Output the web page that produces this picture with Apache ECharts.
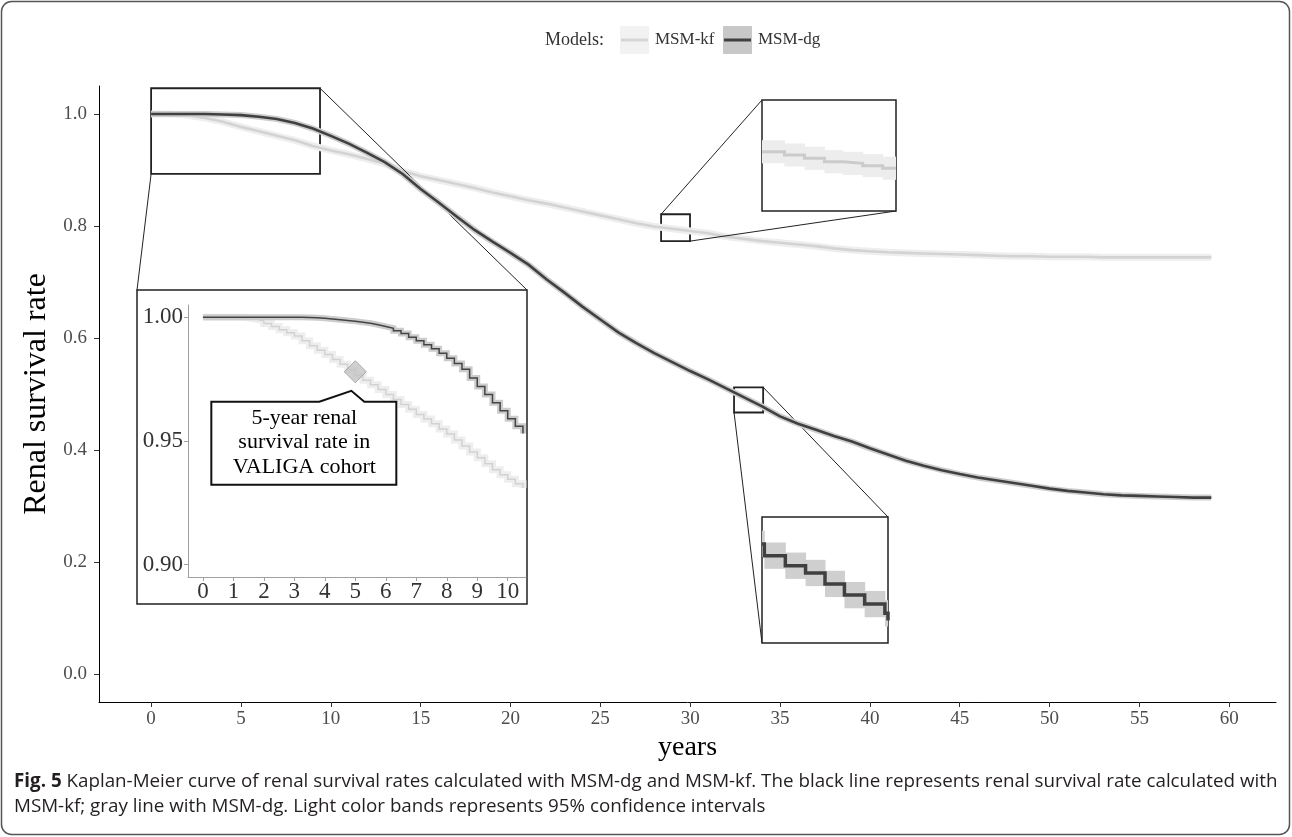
<!DOCTYPE html>
<html><head><meta charset="utf-8">
<script src="https://cdn.jsdelivr.net/npm/echarts@6/dist/echarts.min.js"></script>
<style>html,body{margin:0;padding:0;background:#fff}#c{width:1292px;height:837px}</style>
</head><body><div id="c"></div>
<script>
// ---------- data ----------
const years = [0,1,2,3,4,5,6,7,8,9,10,11,12,13,14,15,16,17,18,19,20,21,22,23,24,25,26,27,28,29,30,31,32,33,34,35,36,37,38,39,40,41,42,43,44,45,46,47,48,49,50,51,52,53,54,55,56,57,58,59];
const kfRate = [1.000,1.000,0.998,0.993,0.986,0.977,0.969,0.961,0.953,0.943,
  0.935,0.928,0.920,0.911,0.898,0.889,0.882,0.875,0.868,0.860,
  0.853,0.846,0.840,0.833,0.826,0.819,0.812,0.805,0.799,0.795,
  0.791,0.787,0.781,0.777,0.773,0.770,0.767,0.764,0.760,0.757,
  0.755,0.753,0.752,0.751,0.750,0.749,0.748,0.747,0.746,0.746,
  0.745,0.745,0.745,0.744,0.744,0.744,0.744,0.744,0.744,0.744];
const dgRate = [1.000,1.000,1.000,1.000,0.999,0.998,0.995,0.991,0.984,0.974,
  0.961,0.947,0.931,0.914,0.893,0.866,0.842,0.817,0.793,0.772,
  0.752,0.731,0.705,0.681,0.656,0.633,0.610,0.591,0.573,0.557,
  0.541,0.526,0.510,0.494,0.478,0.460,0.447,0.436,0.425,0.415,
  0.403,0.392,0.381,0.372,0.364,0.357,0.351,0.346,0.341,0.336,
  0.331,0.327,0.324,0.321,0.319,0.318,0.317,0.316,0.315,0.315];
const xTicks = [0,5,10,15,20,25,30,35,40,45,50,55,60];
const yTicks = [0,0.2,0.4,0.6,0.8,1.0];

const insetYears = [0,0.25,0.5,0.75,1,1.25,1.5,1.75,2,2.25,2.5,2.75,3,3.25,3.5,3.75,4,4.25,4.5,4.75,5,5.25,5.5,5.75,6,6.25,6.5,6.75,7,7.25,7.5,7.75,8,8.25,8.5,8.75,9,9.25,9.5,9.75,10,10.25,10.5];
const insetDg = [1.0000,1.0000,1.0000,1.0000,1.0000,1.0000,1.0000,1.0000,1.0000,1.0000,1.0000,1.0000,
  1.0000,0.9999,0.9998,0.9996,0.9993,0.9990,0.9987,0.9984,0.9980,0.9976,0.9970,0.9963,
  0.9956,0.9946,0.9935,0.9920,0.9905,0.9889,0.9873,0.9855,0.9835,0.9813,0.9790,0.9755,
  0.9720,0.9688,0.9655,0.9622,0.9590,0.9560,0.9530];
const insetKf = [1.0000,1.0000,1.0000,1.0000,1.0000,0.9998,0.9993,0.9985,0.9975,0.9963,0.9950,0.9938,
  0.9925,0.9905,0.9885,0.9867,0.9850,0.9830,0.9810,0.9788,0.9765,0.9746,0.9727,0.9708,
  0.9688,0.9668,0.9648,0.9628,0.9607,0.9589,0.9570,0.9549,0.9528,0.9504,0.9480,0.9456,
  0.9432,0.9408,0.9384,0.9364,0.9345,0.9327,0.9310];
const insetXTicks = [0,1,2,3,4,5,6,7,8,9,10];
const insetYTicks = [0.90,0.95,1.00];
const valigaYear = 5;
const valigaRate = 0.978;

// magnified regions (data coordinates)
const boxA = {x:[0, 9.4], y:[0.893, 1.046]};
const boxB = {x:[28.38, 29.99], y:[0.773, 0.821]};
const boxC = {x:[32.44, 34.06], y:[0.467, 0.512]};
const zoomKfYears = [28.38,28.65,28.89,29.13,29.35,29.59,29.83,29.99];
const zoomKfRate  = [0.7986,0.7972,0.7958,0.7943,0.7936,0.7926,0.7915,0.7915];
const zoomKfLow   = [0.7936,0.7922,0.7908,0.7893,0.7886,0.7876,0.7865,0.7865];
const zoomKfHigh  = [0.8036,0.8022,0.8008,0.7993,0.7986,0.7976,0.7965,0.7965];
const zoomDgYears = [32.44,32.47,32.74,33.00,33.25,33.50,33.76,34.02,34.06];
const zoomDgRate  = [0.5024,0.4982,0.4946,0.4920,0.4881,0.4841,0.4809,0.4776,0.4750];
const zoomDgLow   = [0.4977,0.4935,0.4899,0.4873,0.4834,0.4794,0.4762,0.4729,0.4703];
const zoomDgHigh  = [0.5071,0.5029,0.4993,0.4967,0.4928,0.4888,0.4856,0.4823,0.4797];

// ---------- helpers ----------
const pair = (xs, ys) => xs.map((x, i) => [x, ys[i]]);
const SERIF = '"Liberation Serif", "Times New Roman", serif';
const SANS = '"Open Sans", sans-serif';

const chart = echarts.init(document.getElementById('c'), null, {renderer: 'canvas'});

function lineSeries(name, data, xi, color, width, z, step) {
  return {
    name, type: 'line', xAxisIndex: xi, yAxisIndex: xi, data,
    showSymbol: false, symbol: 'none', step: step || false, z,
    lineStyle: {color, width, cap: 'butt', join: 'miter'},
    emphasis: {disabled: true}, silent: true
  };
}
// confidence band: one rectangle per step, [start, end, low, high]
function bandSeries(name, xs, lo, hi, xi, color, z) {
  const data = [];
  for (let i = 0; i < xs.length - 1; i++) data.push([xs[i], xs[i + 1], lo[i], hi[i]]);
  return {
    name, type: 'custom', xAxisIndex: xi, yAxisIndex: xi, z, silent: true,
    encode: {x: [0, 1], y: [2, 3]}, data,
    renderItem: (params, api) => {
      const p1 = api.coord([api.value(0), api.value(3)]);
      const p2 = api.coord([api.value(1), api.value(2)]);
      const cs = params.coordSys;
      const shape = echarts.graphic.clipRectByRect(
        {x: p1[0], y: p1[1], width: p2[0] - p1[0] + 0.5, height: p2[1] - p1[1]},
        {x: cs.x, y: cs.y, width: cs.width, height: cs.height});
      return shape && {type: 'rect', shape, style: {fill: color}};
    }
  };
}

const hiddenAxis = (gi, r) => ({gridIndex: gi, type: 'value', min: r[0], max: r[1], show: false});

const option = {
  animation: false,
  backgroundColor: '#fff',
  grid: [
    {left: 99, right: 16, top: 86, bottom: 135},
    {left: 188, top: 305, width: 338, height: 272, z: 10},
    {left: 762, top: 100, width: 134, height: 111, show: true, backgroundColor: '#fff', borderColor: '#222', borderWidth: 1.5, z: 4},
    {left: 762, top: 517, width: 126, height: 126, show: true, backgroundColor: '#fff', borderColor: '#222', borderWidth: 1.5, z: 4}
  ],
  xAxis: [
    {gridIndex: 0, type: 'value', min: -2.9, max: 62.6,
     name: 'years', nameLocation: 'middle', nameGap: 32,
     nameTextStyle: {fontFamily: SERIF, fontSize: 28, color: '#000'},
     axisLine: {show: true, onZero: false, lineStyle: {color: '#000', width: 1}},
     axisTick: {show: true, length: 5, customValues: xTicks, lineStyle: {color: '#333'}},
     axisLabel: {customValues: xTicks, fontFamily: SERIF, fontSize: 19, color: '#4d4d4d', margin: 8},
     splitLine: {show: false}},
    {gridIndex: 1, type: 'value', min: -0.49, max: 10.6, z: 10,
     axisLine: {show: true, onZero: false, lineStyle: {color: '#a0a0a0', width: 1}},
     axisTick: {show: true, length: 4, customValues: insetXTicks, lineStyle: {color: '#a0a0a0'}},
     axisLabel: {customValues: insetXTicks, fontFamily: SERIF, fontSize: 23, color: '#333', margin: 3},
     splitLine: {show: false}},
    hiddenAxis(2, boxB.x),
    hiddenAxis(3, boxC.x)
  ],
  yAxis: [
    {gridIndex: 0, type: 'value', min: -0.05, max: 1.05,
     name: 'Renal survival rate', nameLocation: 'middle', nameGap: 43, nameRotate: 90,
     nameTextStyle: {fontFamily: SERIF, fontSize: 32, color: '#000'},
     axisLine: {show: true, onZero: false, lineStyle: {color: '#000', width: 1}},
     axisTick: {show: true, length: 5, customValues: yTicks, lineStyle: {color: '#333'}},
     axisLabel: {customValues: yTicks, formatter: v => v.toFixed(1), fontFamily: SERIF, fontSize: 19, color: '#4d4d4d', margin: 12},
     splitLine: {show: false}},
    {gridIndex: 1, type: 'value', min: 0.895, max: 1.005, z: 10,
     axisLine: {show: true, onZero: false, lineStyle: {color: '#a0a0a0', width: 1}},
     axisTick: {show: true, length: 4, customValues: insetYTicks, lineStyle: {color: '#a0a0a0'}},
     axisLabel: {customValues: insetYTicks, formatter: v => v.toFixed(2), fontFamily: SERIF, fontSize: 23, color: '#333', margin: 5},
     splitLine: {show: false}},
    hiddenAxis(2, boxB.y),
    hiddenAxis(3, boxC.y)
  ],
  series: [
    // main panel
    lineSeries('MSM-kf band', pair(years, kfRate), 0, '#eeeeee', 7, 2),
    lineSeries('MSM-kf', pair(years, kfRate), 0, '#d3d3d3', 2.6, 2),
    lineSeries('MSM-dg band', pair(years, dgRate), 0, '#cdcdcd', 6, 3),
    Object.assign(lineSeries('MSM-dg', pair(years, dgRate), 0, '#404040', 2.6, 3), {
      markArea: {
        silent: true,
        itemStyle: {color: 'rgba(0,0,0,0)', borderColor: '#222', borderWidth: 1.8},
        data: [boxA, boxB, boxC].map(b => [{coord: [b.x[0], b.y[1]]}, {coord: [b.x[1], b.y[0]]}])
      }
    }),
    // inset panel
    lineSeries('inset kf band', pair(insetYears, insetKf), 1, '#eeeeee', 7, 11, 'end'),
    lineSeries('inset kf', pair(insetYears, insetKf), 1, '#d2d2d2', 1.5, 11, 'end'),
    lineSeries('inset dg band', pair(insetYears, insetDg), 1, '#cccccc', 6, 12, 'end'),
    lineSeries('inset dg', pair(insetYears, insetDg), 1, '#444', 1.5, 12, 'end'),
    {type: 'scatter', xAxisIndex: 1, yAxisIndex: 1, z: 13, silent: true,
     data: [[valigaYear, valigaRate]], symbol: 'diamond', symbolSize: [22, 22],
     itemStyle: {color: '#c4c4c4', borderColor: '#9a9a9a', borderWidth: 1}},
    // magnified box B
    bandSeries('zoom kf band', zoomKfYears, zoomKfLow, zoomKfHigh, 2, '#ededed', 5),
    lineSeries('zoom kf', pair(zoomKfYears, zoomKfRate), 2, '#cbcbcb', 3, 6, 'end'),
    // magnified box C
    bandSeries('zoom dg band', zoomDgYears, zoomDgLow, zoomDgHigh, 3, '#cfcfcf', 5),
    lineSeries('zoom dg', pair(zoomDgYears, zoomDgRate), 3, '#404040', 3.5, 6, 'end')
  ]
};
chart.setOption(option);

// ---------- annotations (anchored through the axes) ----------
const P = (g, x, y) => chart.convertToPixel({gridIndex: g}, [x, y]);
const INSET = {x: 137, y: 290, w: 390, h: 314};
const seg = (a, b, z) => ({type: 'line', z: z || 3, silent: true,
  shape: {x1: a[0], y1: a[1], x2: b[0], y2: b[1]}, style: {stroke: '#222', lineWidth: 1}});
const txt = (text, x, y, font, fill, align) => ({type: 'text', silent: true, z: 20,
  style: {text, x, y, font, fill: fill || '#000', align: align || 'left', verticalAlign: 'middle',
          textAlign: align || 'left', textVerticalAlign: 'middle'}});

const aBL = P(0, boxA.x[0], boxA.y[0]), aTR = P(0, boxA.x[1], boxA.y[1]);
const bTL = P(0, boxB.x[0], boxB.y[1]), bBR = P(0, boxB.x[1], boxB.y[0]);
const bTL2 = P(2, boxB.x[0], boxB.y[1]), bBR2 = P(2, boxB.x[1], boxB.y[0]);
const cTR = P(0, boxC.x[1], boxC.y[1]), cBL = P(0, boxC.x[0], boxC.y[0]);
const cTR2 = P(3, boxC.x[1], boxC.y[1]), cBL2 = P(3, boxC.x[0], boxC.y[0]);
const D = P(1, valigaYear, valigaRate);

const calloutPts = [
  [D[0] - 144, D[1] + 30], [D[0] - 36, D[1] + 30], [D[0] - 4, D[1] + 19], [D[0] + 9, D[1] + 30],
  [D[0] + 41, D[1] + 30], [D[0] + 41, D[1] + 113], [D[0] - 144, D[1] + 113]
];
const cx = D[0] - 51;

const graphics = [
  {type: 'rect', z: 0, silent: true, shape: {x: 1.5, y: 1.5, width: 1288, height: 833, r: 10},
   style: {fill: 'none', stroke: '#555', lineWidth: 1.5}},
  {type: 'rect', z: 1, silent: true, shape: {x: INSET.x, y: INSET.y, width: INSET.w, height: INSET.h},
   style: {fill: '#fff', stroke: '#222', lineWidth: 1.5}},
  seg(aBL, [INSET.x, INSET.y]), seg(aTR, [INSET.x + INSET.w, INSET.y]),
  seg(bTL, bTL2), seg(bBR, bBR2),
  seg(cTR, cTR2), seg(cBL, cBL2),
  {type: 'polygon', z: 14, silent: true, shape: {points: calloutPts},
   style: {fill: '#fff', stroke: '#111', lineWidth: 2}},
  txt('5-year renal', cx, D[1] + 46, '22px ' + SERIF, '#000', 'center'),
  txt('survival rate in', cx, D[1] + 70, '22px ' + SERIF, '#000', 'center'),
  txt('VALIGA cohort', cx, D[1] + 95, '22px ' + SERIF, '#000', 'center'),
  // legend
  txt('Models:', 545, 40, '18px ' + SERIF, '#333'),
  {type: 'rect', z: 20, silent: true, shape: {x: 620, y: 26, width: 29, height: 28}, style: {fill: '#f2f2f2'}},
  {type: 'line', z: 21, silent: true, shape: {x1: 621, y1: 40, x2: 648, y2: 40}, style: {stroke: '#d6d6d6', lineWidth: 3}},
  txt('MSM-kf', 655, 40, '17px ' + SERIF, '#333'),
  {type: 'rect', z: 20, silent: true, shape: {x: 723, y: 26, width: 29, height: 28}, style: {fill: '#c8c8c8'}},
  {type: 'line', z: 21, silent: true, shape: {x1: 724, y1: 40, x2: 751, y2: 40}, style: {stroke: '#404040', lineWidth: 3}},
  txt('MSM-dg', 758, 40, '17px ' + SERIF, '#333'),
  // caption
  {type: 'text', z: 20, silent: true, style: {
    text: '{b|Fig. 5} Kaplan-Meier curve of renal survival rates calculated with MSM-dg and MSM-kf. The black line represents renal survival rate calculated with',
    x: 14, y: 782, align: 'left', verticalAlign: 'middle', textVerticalAlign: 'middle',
    font: '18.8px ' + SANS, fill: '#231f20',
    rich: {b: {fontWeight: 'bold', fontFamily: SANS, fontSize: 18.8, fill: '#231f20'}}}},
  txt('MSM-kf; gray line with MSM-dg. Light color bands represents 95% confidence intervals', 14, 807, '18.8px ' + SANS, '#231f20')
];
chart.setOption({graphic: {elements: graphics}});
</script></body></html>
